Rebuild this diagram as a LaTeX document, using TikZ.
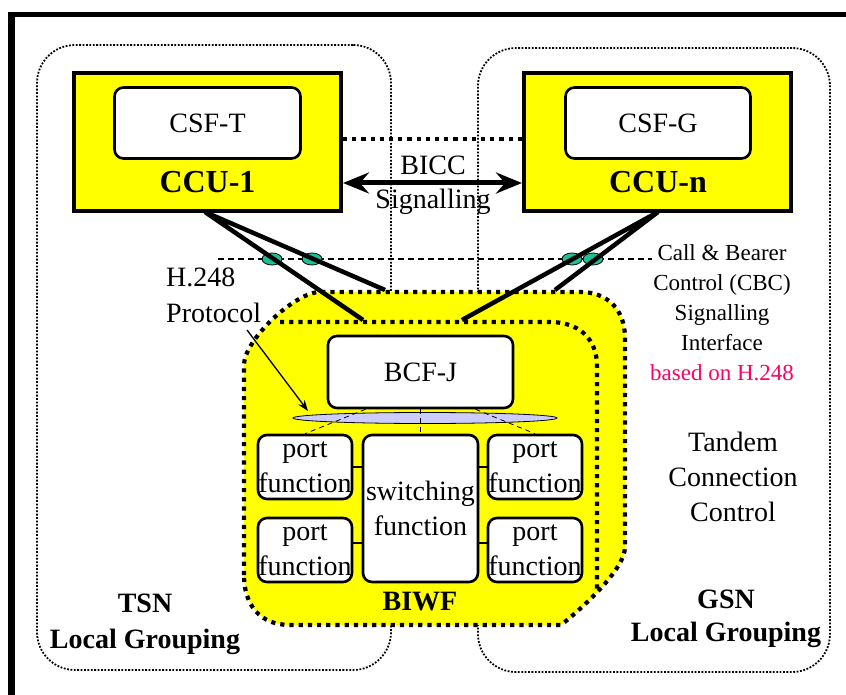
\documentclass[tikz,border=0pt]{standalone}
\usepackage{fontspec}
\setmainfont{Liberation Serif}
\usetikzlibrary{arrows.meta,shapes.geometric}
\definecolor{ccuyellow}{RGB}{255,255,0}
\definecolor{linkdot}{RGB}{30,190,150}
\definecolor{buscolor}{RGB}{204,204,255}
\definecolor{notepink}{RGB}{255,0,102}
\newcommand\fsz[2]{\fontsize{#1}{#2}\selectfont}

\begin{document}
\begin{tikzpicture}[x=1pt,y=-1pt,
  grp/.style={draw, line width=1.8pt, dash pattern=on 1.8pt off 1.6pt,
    rounded corners=38pt, inner sep=0},
  ccu/.style={draw, line width=4pt, fill=ccuyellow, inner sep=0},
  fbox/.style={draw, line width=2.6pt, fill=white, rounded corners=9pt,
    inner sep=0, align=center, font=\fsz{28}{35}},
  heavydot/.style={line width=4.2pt, dash pattern=on 4.2pt off 5pt},
  label/.style={inner sep=0, align=center, font=\fsz{28}{35}},
  boldlabel/.style={inner sep=0, align=center, font=\bfseries\fsz{28}{36}},
  h248/.style={line width=4.5pt},
  linkdot/.style={ellipse, draw, line width=0.8pt, fill=linkdot,
    minimum width=20pt, minimum height=12pt, inner sep=0},
  thinlink/.style={line width=1.2pt}
]
\useasboundingbox (0,0) rectangle (846,695);

% page frame
\fill (8,12) rectangle (846,17.5);
\fill (8,12) rectangle (15,695);

% local groupings
\node[grp, minimum width=354pt, minimum height=625pt] (tsn) at (214,357.5) {};
\node[grp, minimum width=352pt, minimum height=624pt] (gsn) at (654,360) {};

% BIWF area (two stacked dotted outlines)
\path[fill=ccuyellow] (244,575) -- (244,365) .. controls (244,340) and (295,292) .. (320,292)
  -- (580,292) .. controls (608,292) and (625,310) .. (625,338)
  -- (625,547) .. controls (625,570) and (580,610) .. (561,625)
  -- (290,625) .. controls (260,625) and (244,605) .. (244,575) -- cycle;
\draw[heavydot] (244,575) -- (244,365) .. controls (244,340) and (295,292) .. (320,292)
  -- (580,292) .. controls (608,292) and (625,310) .. (625,338)
  -- (625,547) .. controls (625,570) and (580,610) .. (561,625)
  -- (290,625) .. controls (260,625) and (244,605) .. (244,575);
\draw[heavydot] (280,322) -- (550,322) .. controls (578,322) and (597,338) .. (597,366)
  -- (597,590);

% call control units
\node[ccu, minimum width=267pt, minimum height=138pt] (ccu1) at (207.5,142) {};
\node[ccu, minimum width=267pt, minimum height=138pt] (ccun) at (657.5,142) {};
\node[fbox, minimum width=186pt, minimum height=71pt] (csft) at (207.5,123) {CSF-T};
\node[fbox, minimum width=185pt, minimum height=71pt] (csfg) at (658,123) {CSF-G};
\node[inner sep=0, font=\bfseries\fsz{32}{36}] (ccu1lbl) at (207.5,182) {CCU-1};
\node[inner sep=0, font=\bfseries\fsz{32}{36}] (ccunlbl) at (658,182) {CCU-n};

% BICC signalling between the CCUs
\draw[heavydot] ([yshift=3pt]ccu1.east) -- ([yshift=3pt]ccun.west);
\draw[line width=5pt, {Stealth[length=26pt,width=21pt,inset=9pt]}-{Stealth[length=26pt,width=21pt,inset=9pt]}]
  ([yshift=-41pt]ccu1.east) -- ([yshift=-41pt]ccun.west);
\node[label, font=\fsz{28}{34}] (bicc) at (433,185) {BICC\\Signalling};

% CBC signalling interface
\coordinate (cbcL) at (218,259);
\coordinate (cbcR) at (652,259);
\draw[line width=1.4pt, dash pattern=on 6pt off 4pt] (cbcL) -- (cbcR);
\node[linkdot] (e1) at (272,259) {};
\node[linkdot] (e2) at (312,259) {};
\node[linkdot] (e3) at (572,259) {};
\node[linkdot] (e4) at (593,259) {};

\coordinate (h1) at (205,212);
\coordinate (h2) at (658,212);
\coordinate (b1) at (363,320);
\coordinate (b2) at (385,290);
\coordinate (b3) at (462,320);
\coordinate (b4) at (555,290);
\draw[h248] (b1) -- (h1) -- (b2);
\draw[h248] (b3) -- (h2) -- (b4);

% bearer control function and switching fabric
\node[fbox, minimum width=185pt, minimum height=72pt] (bcfj) at (420.5,372) {BCF-J};
\node[ellipse, draw, line width=0.8pt, fill=buscolor, minimum width=264pt,
  minimum height=11pt, inner sep=0] (bus) at (425,418) {};

\node[fbox, minimum width=94pt, minimum height=64pt] (pTL) at (305,467) {port\\function};
\node[fbox, minimum width=94pt, minimum height=64pt] (pBL) at (305,550) {port\\function};
\node[fbox, minimum width=94pt, minimum height=64pt] (pTR) at (535,467) {port\\function};
\node[fbox, minimum width=94pt, minimum height=64pt] (pBR) at (535,550) {port\\function};
\node[fbox, minimum width=115pt, minimum height=147pt] (sw) at (420.5,508.5) {switching\\function};

\draw[line width=0.8pt, dash pattern=on 5pt off 4pt] ([xshift=-55pt]bcfj.south) -- (pTL.north);
\draw[line width=0.8pt, dash pattern=on 5pt off 4pt] ([xshift=55pt]bcfj.south) -- (pTR.north);
\draw[line width=0.8pt, dash pattern=on 5pt off 4pt] (bcfj.south) -- (sw.north);

\draw[thinlink] (pTL.east) -- (pTL.east -| sw.west);
\draw[thinlink] (pTR.west) -- (pTR.west -| sw.east);
\coordinate (lbl) at ([yshift=7pt]pBL.east);
\coordinate (lbr) at ([yshift=7pt]pBR.west);
\draw[thinlink] (lbl) -- (lbl -| sw.west);
\draw[thinlink] (lbr) -- (lbr -| sw.east);

\node[boldlabel] (biwf) at (420,602) {BIWF};

% H.248 protocol pointer
\node[label, align=left, anchor=west, font=\fsz{28}{36}] (h248lbl) at (166,295) {H.248\\Protocol};
\coordinate (ptr) at (247,330);
\coordinate (ptrtip) at (308,411);
\draw[line width=1.3pt, -{Stealth[length=11pt,width=8pt]}] (ptr) -- (ptrtip);

% side annotations
\node[label, font=\fsz{23}{30}] (cbc) at (722,313)
  {Call \& Bearer\\Control (CBC)\\Signalling\\Interface\\\textcolor{notepink}{based on H.248}};
\node[label] (tcc) at (733,477) {Tandem\\Connection\\Control};
\node[boldlabel] (tsnlbl) at (145,624) {TSN\\Local Grouping};
\node[boldlabel, font=\bfseries\fsz{28}{33}] (gsnlbl) at (726,619) {GSN\\Local Grouping};
\end{tikzpicture}
\end{document}
